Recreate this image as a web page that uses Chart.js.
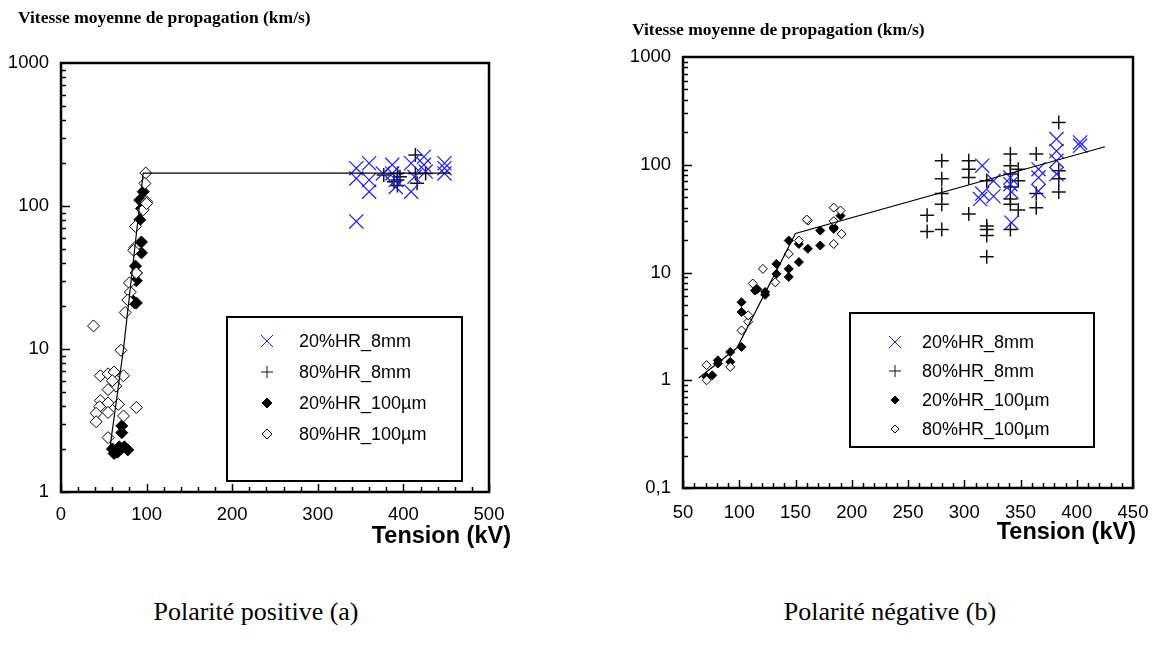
<!DOCTYPE html>
<html lang="fr">
<head>
<meta charset="UTF-8">
<title>Vitesse moyenne de propagation</title>
<script src="https://cdn.jsdelivr.net/npm/chart.js"></script>
<style>
    body {
        margin: 0;
        background: #fff;
        width: 1161px;
        height: 646px;
        position: relative;
        overflow: hidden;
    }
    canvas { position: absolute; top: 0; }
    #chartPos { left: 0; }
    #chartNeg { left: 580px; }
    .txt { position: absolute; white-space: nowrap; color: #000; line-height: 1; }
    .title { font-family: "Liberation Serif", "Times New Roman", serif; font-weight: bold; font-size: 17.5px; }
    .axis { font-family: "Liberation Sans", Arial, sans-serif; font-weight: bold; font-size: 23.5px; }
    .caption { font-family: "Liberation Serif", "Times New Roman", serif; font-size: 26px; transform: translateX(-50%); }
</style>
</head>
<body>
<canvas id="chartPos" width="560" height="560"></canvas>
<canvas id="chartNeg" width="581" height="560"></canvas>

<div class="txt title" style="left:18px; top:9px;">Vitesse moyenne de propagation (km/s)</div>
<div class="txt title" style="left:632px; top:21px;">Vitesse moyenne de propagation (km/s)</div>
<div class="txt axis" style="right:650px; top:524px;">Tension (kV)</div>
<div class="txt axis" style="right:25px; top:520px;">Tension (kV)</div>
<div class="txt caption" style="left:256px; top:599px;">Polarité positive (a)</div>
<div class="txt caption" style="left:890px; top:599px;">Polarité négative (b)</div>

<script>
// series labels
const seriesNames = ['20%HR_8mm', '80%HR_8mm', '20%HR_100µm', '80%HR_100µm'];

// tick labels
const posXTicks = [0, 100, 200, 300, 400, 500];
const posYTicks = [1, 10, 100, 1000];
const negXTicks = [50, 100, 150, 200, 250, 300, 350, 400, 450];
const negYTicks = [0.1, 1, 10, 100, 1000];

// (a) polarité positive : [tension kV, vitesse km/s]
const pos20_8mm = [[345, 78], [345, 184], [345, 156], [360, 199], [360, 126], [360, 152], [376, 169], [387, 194],
    [387, 169], [391, 136], [391, 152], [409, 199], [409, 126], [413, 160], [424, 221], [424, 194], [426, 174],
    [448, 199], [448, 169], [448, 184]];
const pos80_8mm = [[414, 227], [393, 169], [393, 152], [393, 139], [396, 160], [377, 165], [414, 169], [416, 144],
    [426, 169], [389, 148]];
const pos20_100um = [[96, 126], [92, 110], [94, 96], [92, 80], [94, 56], [94, 47], [87, 38], [88, 34], [88, 30],
    [83, 22], [86, 21], [88, 21], [71, 2.9], [71, 2.6], [60, 2.0], [66, 1.9], [68, 2.07], [78, 1.97], [62, 1.86],
    [74, 2.07], [64, 1.95], [70, 2.0]];
const pos80_100um = [[99, 170], [98, 144], [100, 107], [96, 94], [87, 72], [86, 51], [88, 34], [80, 29], [81, 25],
    [75, 18], [38, 14.5], [70, 9.8], [46, 6.5], [55, 6.7], [62, 6.9], [73, 6.5], [64, 5.5], [55, 5.2], [46, 4.35],
    [45, 3.95], [55, 4.2], [67, 4.1], [55, 3.6], [41, 3.55], [41, 3.1], [73, 3.4], [88, 3.9], [55, 2.4], [100, 104],
    [85, 49], [78, 22], [60, 6.0]];
const posFit = [[57, 2.0], [73, 10], [96, 170], [455, 170]];

// (b) polarité négative
const neg20_8mm = [[316, 98], [326, 71], [316, 54], [314, 48], [326, 51], [341, 76], [341, 66], [342, 56], [342, 29],
    [366, 91], [366, 76], [366, 57], [382, 173], [382, 134], [382, 109], [382, 82], [403, 161], [403, 150]];
const neg80_8mm = [[280, 109], [280, 74], [280, 54], [280, 43], [280, 25], [267, 34], [267, 24], [304, 109],
    [304, 91], [304, 76], [304, 35], [320, 71], [320, 27], [320, 25], [320, 22], [320, 14], [341, 126], [341, 98],
    [341, 82], [341, 62], [341, 48], [341, 43], [341, 25], [348, 91], [348, 71], [348, 38], [364, 126], [364, 54],
    [364, 40], [384, 247], [384, 88], [384, 74], [384, 56]];
const neg20_100um = [[71, 1.07], [76, 1.11], [81, 1.43], [81, 1.53], [92, 1.83], [92, 1.48], [102, 2.04], [102, 5.3],
    [102, 4.3], [114, 6.8], [116, 7.0], [123, 6.6], [123, 6.2], [133, 12], [133, 9.7], [144, 9.1], [144, 19.8],
    [144, 10.8], [153, 18.4], [153, 12.5], [161, 16.6], [172, 24.5], [172, 17.8], [184, 25.4], [184, 26.3], [190, 33.7]];
const neg80_100um = [[71, 1.38], [71, 1.0], [92, 1.33], [102, 2.9], [108, 3.5], [108, 4.0], [112, 7.9], [121, 10.8],
    [132, 8.1], [144, 14.9], [153, 19.8], [161, 30.3], [184, 18.4], [191, 22.8], [184, 40], [190, 37.6], [160, 31],
    [184, 30]];
const negFit = [[64, 1.05], [98, 2.0], [150, 23], [425, 147]];

const SANS = '"Liberation Sans", Arial, sans-serif';
const BLUE = '#1e1ef0';

function pts(arr) {
    return arr.map(p => ({ x: p[0], y: p[1] }));
}

// small marker painter used by the in-plot legend
function drawMark(ctx, style, x, y, r, fill) {
    ctx.beginPath();
    if (style === 'crossRot') {
        ctx.moveTo(x - r, y - r); ctx.lineTo(x + r, y + r);
        ctx.moveTo(x - r, y + r); ctx.lineTo(x + r, y - r);
        ctx.stroke();
    } else if (style === 'cross') {
        ctx.moveTo(x - r, y); ctx.lineTo(x + r, y);
        ctx.moveTo(x, y - r); ctx.lineTo(x, y + r);
        ctx.stroke();
    } else {
        ctx.moveTo(x, y - r); ctx.lineTo(x + r, y); ctx.lineTo(x, y + r); ctx.lineTo(x - r, y);
        ctx.closePath();
        ctx.fillStyle = fill;
        ctx.fill();
        ctx.stroke();
    }
}

// box around the plot + inward tick marks (minor ones too)
const frameTicks = {
    id: 'frameTicks',
    afterDatasetsDraw(chart, args, o) {
        const { ctx, chartArea: a, scales: { x, y } } = chart;
        ctx.save();
        ctx.strokeStyle = '#000';
        ctx.lineWidth = 2.5;
        ctx.strokeRect(a.left, a.top, a.right - a.left, a.bottom - a.top);
        ctx.lineWidth = 1.5;
        ctx.beginPath();
        for (let v = x.min; v <= x.max + 1e-9; v += o.xMinor) {
            const px = Math.round(x.getPixelForValue(v)) + 0.5;
            const len = Math.abs(v % o.xMajor) < 1e-6 ? 8 : 5;
            ctx.moveTo(px, a.bottom);
            ctx.lineTo(px, a.bottom - len);
        }
        for (let d = y.min; d < y.max * 0.999; d *= 10) {
            for (let k = 1; k <= 9; k++) {
                const py = Math.round(y.getPixelForValue(d * k)) + 0.5;
                ctx.moveTo(a.left, py);
                ctx.lineTo(a.left + (k === 1 ? 9 : 5), py);
            }
        }
        ctx.stroke();
        ctx.restore();
    }
};

const boxLegend = {
    id: 'boxLegend',
    afterDraw(chart, args, o) {
        const ctx = chart.ctx;
        const [bx, by, bw, bh] = o.box;
        ctx.save();
        ctx.fillStyle = '#fff';
        ctx.fillRect(bx, by, bw, bh);
        ctx.strokeStyle = '#000';
        ctx.lineWidth = 2;
        ctx.strokeRect(bx, by, bw, bh);
        ctx.font = o.font;
        ctx.textBaseline = 'middle';
        chart.data.datasets.slice(0, 4).forEach((ds, i) => {
            const yy = o.rowY + i * o.rowH;
            ctx.strokeStyle = ds.borderColor;
            ctx.lineWidth = 1;
            drawMark(ctx, ds.pointStyle, o.markX, yy, o.markR[i], ds.backgroundColor);
            ctx.fillStyle = '#000';
            ctx.fillText(ds.label, o.textX, yy + 1);
        });
        ctx.restore();
    }
};

function buildChart(id, d, opt) {
    const ds = [
        { label: seriesNames[0], data: pts(d[0]), pointStyle: 'crossRot', pointRadius: opt.r[0],
          borderColor: BLUE, backgroundColor: BLUE, pointBorderWidth: 1.2, borderWidth: 1, order: 1 },
        { label: seriesNames[1], data: pts(d[1]), pointStyle: 'cross', pointRadius: opt.r[1],
          borderColor: '#111', backgroundColor: '#111', pointBorderWidth: 1.5, borderWidth: 1, order: 2 },
        { label: seriesNames[2], data: pts(d[2]), pointStyle: 'rectRot', pointRadius: opt.r[2],
          borderColor: '#000', backgroundColor: '#000', pointBorderWidth: 1, borderWidth: 1, order: 4 },
        { label: seriesNames[3], data: pts(d[3]), pointStyle: 'rectRot', pointRadius: opt.r[3],
          borderColor: '#000', backgroundColor: '#fff', pointBorderWidth: 1, borderWidth: 1, order: 3 },
        { label: 'fit', data: pts(d[4]), showLine: true, pointRadius: 0, borderColor: '#000',
          borderWidth: 1.2, fill: false, order: 0 }
    ];
    return new Chart(document.getElementById(id), {
        type: 'scatter',
        data: { datasets: ds },
        plugins: [frameTicks, boxLegend],
        options: {
            responsive: false,
            animation: false,
            events: [],
            layout: { padding: opt.pad },
            plugins: {
                legend: { display: false },
                tooltip: { enabled: false },
                frameTicks: opt.ticks,
                boxLegend: opt.legend
            },
            scales: {
                x: {
                    type: 'linear',
                    min: opt.xTicks[0],
                    max: opt.xTicks[opt.xTicks.length - 1],
                    afterBuildTicks: s => { s.ticks = opt.xTicks.map(v => ({ value: v })); },
                    afterFit: s => { s.height = opt.xH; },
                    grid: { display: false },
                    border: { display: false },
                    ticks: { color: '#000', padding: opt.xPad, maxRotation: 0, font: { family: SANS, size: 18.5 } }
                },
                y: {
                    type: 'logarithmic',
                    min: opt.yTicks[0],
                    max: opt.yTicks[opt.yTicks.length - 1],
                    afterBuildTicks: s => { s.ticks = opt.yTicks.map(v => ({ value: v })); },
                    afterFit: s => { s.width = opt.yW; },
                    grid: { display: false },
                    border: { display: false },
                    ticks: {
                        color: '#000', padding: 4, font: { family: SANS, size: 18.5 },
                        callback: v => String(v).replace('.', ',')
                    }
                }
            }
        }
    });
}

buildChart('chartPos', [pos20_8mm, pos80_8mm, pos20_100um, pos80_100um, posFit], {
    xTicks: posXTicks, yTicks: posYTicks,
    pad: { left: 0, top: 63, right: 71, bottom: 0 }, xH: 68, yW: 61, xPad: 4,
    r: [10, 7, 6, 6],
    ticks: { xMinor: 20, xMajor: 100 },
    legend: { box: [227, 317, 235, 164], font: '18px ' + SANS, markX: 267, textX: 299, rowY: 341, rowH: 31,
              markR: [6, 6, 5, 5] }
});

buildChart('chartNeg', [neg20_8mm, neg80_8mm, neg20_100um, neg80_100um, negFit], {
    xTicks: negXTicks, yTicks: negYTicks,
    pad: { left: 0, top: 57, right: 28, bottom: 0 }, xH: 72, yW: 103, xPad: 6,
    r: [10, 7, 4.5, 4.5],
    ticks: { xMinor: 10, xMajor: 50 },
    legend: { box: [270, 313, 244, 134], font: '18px ' + SANS, markX: 315, textX: 342, rowY: 342, rowH: 29,
              markR: [6, 6, 4, 4] }
});
</script>
</body>
</html>
